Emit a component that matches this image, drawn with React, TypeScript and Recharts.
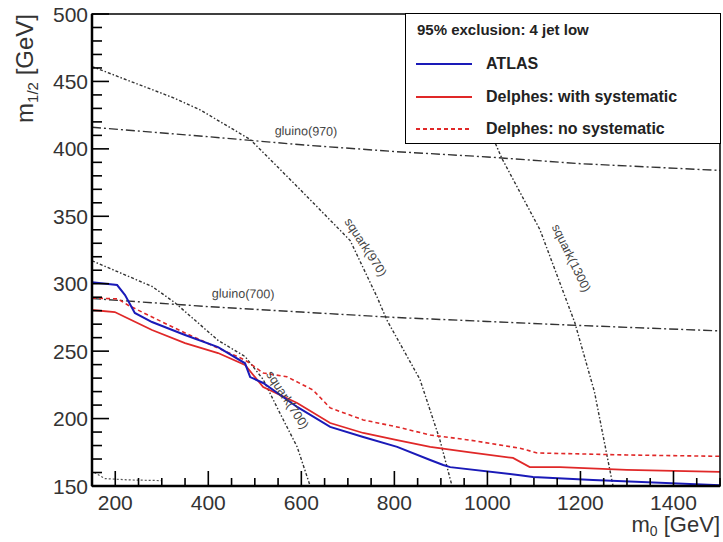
import React from "react";
import { LineChart, Line, XAxis, YAxis, ReferenceDot } from "recharts";

// ---- data (m0 [GeV], m1/2 [GeV]) ----
const atlas = [
  { x: 150, y: 301 }, { x: 204, y: 299 }, { x: 221, y: 291.6 }, { x: 242, y: 278.3 },
  { x: 279, y: 271.6 }, { x: 350, y: 262 }, { x: 421, y: 253 }, { x: 479, y: 241 },
  { x: 490, y: 230.8 }, { x: 518, y: 226.4 }, { x: 591, y: 208.6 }, { x: 662, y: 193.8 },
  { x: 733, y: 186.3 }, { x: 806, y: 179 }, { x: 877, y: 169.3 }, { x: 905, y: 165.6 },
  { x: 920, y: 164 }, { x: 1070, y: 158 }, { x: 1098, y: 156.7 }, { x: 1227, y: 154.5 },
  { x: 1500, y: 150.6 },
];
const delphesSyst = [
  { x: 150, y: 280.5 }, { x: 199, y: 279 }, { x: 221, y: 275.3 }, { x: 279, y: 265.7 },
  { x: 350, y: 256 }, { x: 421, y: 248.6 }, { x: 479, y: 239.7 }, { x: 518, y: 223.4 },
  { x: 591, y: 211.6 }, { x: 662, y: 196.7 }, { x: 733, y: 189.3 }, { x: 806, y: 184 },
  { x: 877, y: 179 }, { x: 963, y: 175 }, { x: 1055, y: 170.8 }, { x: 1091, y: 164 },
  { x: 1156, y: 164 }, { x: 1300, y: 162 }, { x: 1500, y: 160.4 },
];
const delphesNoSyst = [
  { x: 150, y: 289.4 }, { x: 206, y: 288.7 }, { x: 227, y: 284.2 }, { x: 279, y: 275.3 },
  { x: 350, y: 263.5 }, { x: 421, y: 252.3 }, { x: 479, y: 243.4 }, { x: 518, y: 233.8 },
  { x: 569, y: 231 }, { x: 625, y: 221.2 }, { x: 662, y: 207.9 }, { x: 733, y: 199 },
  { x: 806, y: 193.8 }, { x: 877, y: 187.8 }, { x: 963, y: 184 }, { x: 1070, y: 178 },
  { x: 1107, y: 174.5 }, { x: 1300, y: 173 }, { x: 1500, y: 172 },
];
const gluino970 = [
  { x: 150, y: 416 }, { x: 400, y: 409 }, { x: 600, y: 403 }, { x: 800, y: 398 },
  { x: 1000, y: 394 }, { x: 1200, y: 389 }, { x: 1500, y: 384 },
];
const gluino700 = [
  { x: 150, y: 289 }, { x: 400, y: 283 }, { x: 600, y: 279 }, { x: 800, y: 275 },
  { x: 1000, y: 272 }, { x: 1200, y: 269 }, { x: 1500, y: 265 },
];
const squark970 = [
  { x: 150, y: 461 }, { x: 324, y: 438 }, { x: 382, y: 429 }, { x: 490, y: 407 },
  { x: 597, y: 370 }, { x: 705, y: 332 }, { x: 763, y: 290 }, { x: 784, y: 273 },
  { x: 855, y: 229 }, { x: 898, y: 184 }, { x: 924, y: 150 },
];
const squark1300 = [
  { x: 880, y: 500 }, { x: 960, y: 450 }, { x: 1031, y: 393 }, { x: 1113, y: 340 },
  { x: 1188, y: 271 }, { x: 1230, y: 220 }, { x: 1270, y: 150 },
];
const squark700 = [
  { x: 150, y: 317 }, { x: 279, y: 298 }, { x: 328, y: 286 }, { x: 421, y: 258 },
  { x: 479, y: 246 }, { x: 518, y: 229 }, { x: 554, y: 204 }, { x: 591, y: 179 },
  { x: 619, y: 150 },
];
const lowLimit = [
  { x: 155, y: 160 }, { x: 178, y: 155.5 }, { x: 230, y: 154.5 }, { x: 300, y: 154 },
];

const contourLabels = [
  { x: 610, y: 413, text: "gluino(970)", angle: 1 },
  { x: 475, y: 292.4, text: "gluino(700)", angle: 1 },
  { x: 738, y: 327, text: "squark(970)", angle: 57 },
  { x: 1180, y: 319, text: "squark(1300)", angle: 64 },
  { x: 570, y: 213.8, text: "squark(700)", angle: 57 },
];

const xMajorTicks = [200, 400, 600, 800, 1000, 1200, 1400];
const xTicks = [150, 200, 250, 300, 350, 400, 450, 500, 550, 600, 650, 700, 750, 800, 850, 900, 950, 1000, 1050, 1100, 1150, 1200, 1250, 1300, 1350, 1400, 1450, 1500];
const yMajorTicks = [150, 200, 250, 300, 350, 400, 450, 500];
const yTicks = [150, 160, 170, 180, 190, 200, 210, 220, 230, 240, 250, 260, 270, 280, 290, 300, 310, 320, 330, 340, 350, 360, 370, 380, 390, 400, 410, 420, 430, 440, 450, 460, 470, 480, 490, 500];

const legendTitle = "95% exclusion: 4 jet low";
const legendItems = [
  { name: "ATLAS", color: "#1a1ab8", dash: "" },
  { name: "Delphes: with systematic", color: "#e02828", dash: "" },
  { name: "Delphes: no systematic", color: "#e02828", dash: "4 3" },
];

const FONT = "'Liberation Sans', Arial, sans-serif";

// chart geometry (matches the LineChart margins / axis sizes below)
const CHART_W = 723;
const CHART_H = 542;
const MARGIN = { top: 14, right: 3, bottom: 0, left: 0 };
const Y_AXIS_W = 92;
const X_AXIS_H = 56;
const X_DOMAIN = [150, 1500];
const Y_DOMAIN = [150, 500];
const PLOT_L = MARGIN.left + Y_AXIS_W;
const PLOT_R = CHART_W - MARGIN.right;
const PLOT_T = MARGIN.top;
const PLOT_B = CHART_H - MARGIN.bottom - X_AXIS_H;
const sx = (v: number) => PLOT_L + ((v - X_DOMAIN[0]) / (X_DOMAIN[1] - X_DOMAIN[0])) * (PLOT_R - PLOT_L);
const sy = (v: number) => PLOT_B - ((v - Y_DOMAIN[0]) / (Y_DOMAIN[1] - Y_DOMAIN[0])) * (PLOT_B - PLOT_T);

const XTick = (props: any) => {
  const { x, y, payload } = props;
  if (!xMajorTicks.includes(payload.value)) return <g />;
  return (
    <text x={x} y={y + 24} textAnchor="middle" fontSize={21} fill="#333" stroke="none" fontFamily={FONT}>
      {payload.value}
    </text>
  );
};

const YTick = (props: any) => {
  const { x, y, payload } = props;
  if (!yMajorTicks.includes(payload.value)) return <g />;
  return (
    <text x={x - 4} y={y + 7.5} textAnchor="end" fontSize={21} fill="#333" stroke="none" fontFamily={FONT}>
      {payload.value}
    </text>
  );
};

const renderContourLabel = (l: any) => (p: any) => {
  const vb = p.viewBox || {};
  const cx = (vb.x ?? 0) + (vb.width ?? 0) / 2;
  const cy = (vb.y ?? 0) + (vb.height ?? 0) / 2;
  return (
    <text
      x={cx}
      y={cy}
      textAnchor="middle"
      dominantBaseline="central"
      fontSize={12.5}
      fill="#444"
      fontFamily={FONT}
      transform={`rotate(${l.angle}, ${cx}, ${cy})`}
    >
      {l.text}
    </text>
  );
};

const contourStyle = { stroke: "#333", strokeWidth: 1.4 };

export default function App() {
  return (
    <div style={{ position: "absolute", left: 0, top: 0, width: CHART_W, height: CHART_H, background: "#fff" }}>
      <LineChart width={CHART_W} height={CHART_H} margin={MARGIN}>
        <XAxis
          type="number"
          dataKey="x"
          domain={X_DOMAIN}
          ticks={xTicks}
          interval={0}
          tick={XTick}
          tickLine={false}
          tickSize={0}
          tickMargin={0}
          height={X_AXIS_H}
          axisLine={{ stroke: "#000", strokeWidth: 2.5 }}
          allowDataOverflow
        />
        <YAxis
          type="number"
          dataKey="y"
          domain={Y_DOMAIN}
          ticks={yTicks}
          interval={0}
          tick={YTick}
          tickLine={false}
          tickSize={0}
          tickMargin={0}
          width={Y_AXIS_W}
          axisLine={{ stroke: "#000", strokeWidth: 2.5 }}
          allowDataOverflow
        />
        <Line data={gluino970} dataKey="y" {...contourStyle} strokeDasharray="9 3 2 3" dot={false} isAnimationActive={false} />
        <Line data={gluino700} dataKey="y" {...contourStyle} strokeDasharray="9 3 2 3" dot={false} isAnimationActive={false} />
        <Line data={squark970} dataKey="y" {...contourStyle} strokeDasharray="3 2 1.5 2" dot={false} isAnimationActive={false} />
        <Line data={squark1300} dataKey="y" {...contourStyle} strokeDasharray="3 2 1.5 2" dot={false} isAnimationActive={false} />
        <Line data={squark700} dataKey="y" {...contourStyle} strokeDasharray="3 2 1.5 2" dot={false} isAnimationActive={false} />
        <Line data={lowLimit} dataKey="y" stroke="#555" strokeWidth={1.2} strokeDasharray="2 2" dot={false} isAnimationActive={false} />
        <Line data={delphesNoSyst} dataKey="y" stroke="#e02828" strokeWidth={1.6} strokeDasharray="4 3" dot={false} isAnimationActive={false} />
        <Line data={delphesSyst} dataKey="y" stroke="#e02828" strokeWidth={1.8} dot={false} isAnimationActive={false} />
        <Line data={atlas} dataKey="y" stroke="#1a1ab8" strokeWidth={2} dot={false} isAnimationActive={false} />
        {contourLabels.map((l) => (
          <ReferenceDot key={l.text} x={l.x} y={l.y} r={0} fill="none" stroke="none" label={renderContourLabel(l)} />
        ))}
      </LineChart>
      {/* frame, inward ticks and axis titles */}
      <svg width={CHART_W} height={CHART_H} style={{ position: "absolute", left: 0, top: 0, pointerEvents: "none" }}>
        <rect x={PLOT_L} y={PLOT_T} width={PLOT_R - PLOT_L} height={PLOT_B - PLOT_T} fill="none" stroke="#000" strokeWidth={1.5} />
        {xTicks.map((v) => (
          <line key={`xt${v}`} x1={sx(v)} x2={sx(v)} y1={PLOT_B} y2={PLOT_B - (xMajorTicks.includes(v) ? 15 : 8)} stroke="#000" strokeWidth={1.6} />
        ))}
        {yTicks.map((v) => (
          <line key={`yt${v}`} x1={PLOT_L} x2={PLOT_L + (yMajorTicks.includes(v) ? 17 : 10)} y1={sy(v)} y2={sy(v)} stroke="#000" strokeWidth={1.6} />
        ))}
        <text x={33} y={14} textAnchor="end" fontSize={24} fill="#333" fontFamily={FONT} transform="rotate(-90, 33, 14)">
          m<tspan fontSize={15} dy={5}>1/2</tspan>
          <tspan dy={-5}> [GeV]</tspan>
        </text>
        <text x={720} y={532} textAnchor="end" fontSize={22} fill="#333" fontFamily={FONT}>
          m<tspan fontSize={14} dy={4}>0</tspan>
          <tspan dy={-4}> [GeV]</tspan>
        </text>
      </svg>
      {/* legend */}
      <div
        style={{
          position: "absolute",
          left: 405,
          top: 13,
          width: 316,
          height: 131,
          boxSizing: "border-box",
          border: "1.5px solid #000",
          background: "#fff",
          fontFamily: FONT,
          color: "#222",
        }}
      >
        <div style={{ position: "absolute", left: 11, top: 7, fontSize: 15, fontWeight: "bold", whiteSpace: "nowrap" }}>
          {legendTitle}
        </div>
        {legendItems.map((it, i) => (
          <div key={it.name} style={{ position: "absolute", left: 9, top: 38 + i * 32.5, height: 24, display: "flex", alignItems: "center", whiteSpace: "nowrap" }}>
            <svg width={58} height={6} style={{ display: "block" }}>
              <line x1={1} x2={57} y1={3} y2={3} stroke={it.color} strokeWidth={2} strokeDasharray={it.dash} />
            </svg>
            <span style={{ marginLeft: 13, fontSize: 16, fontWeight: "bold" }}>{it.name}</span>
          </div>
        ))}
      </div>
    </div>
  );
}
